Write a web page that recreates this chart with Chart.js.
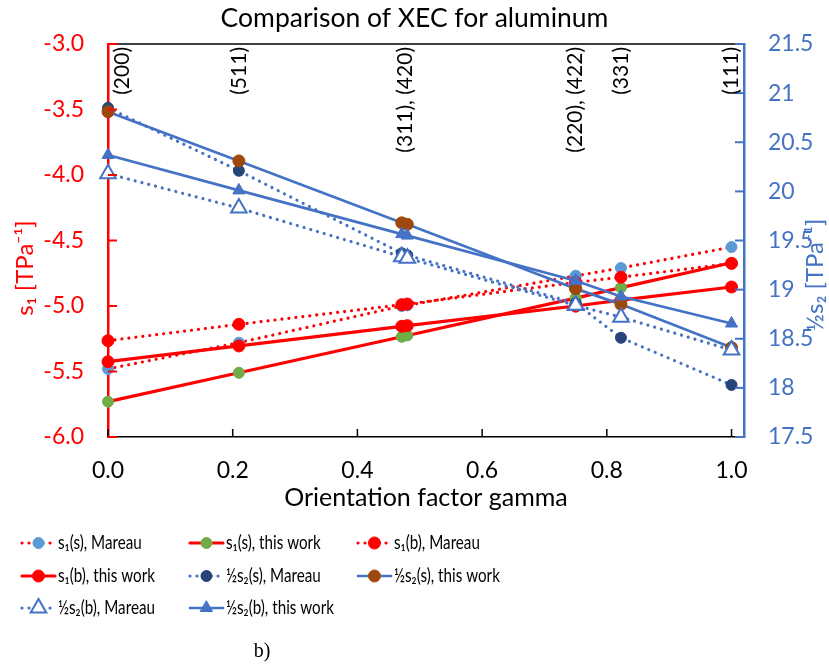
<!DOCTYPE html>
<html>
<head>
<meta charset="utf-8">
<script src="https://cdn.jsdelivr.net/npm/chart.js@4.4.0/dist/chart.umd.min.js"></script>
<style>
  html, body { margin: 0; padding: 0; background: #fff; }
  #wrap { width: 829px; height: 667px; }
</style>
</head>
<body>
<div id="wrap"><canvas id="xecChart" width="829" height="667"></canvas></div>
<script>
// orientation factor gamma of each reflection
const gamma = [0, 0.2099, 0.4711, 0.48, 0.75, 0.75, 0.8227, 1.0];

// s1 [TPa^-1], left axis
const s1sMareau   = [-5.48, -5.28, -5.00, -4.995, -4.77, -4.77, -4.71, -4.55];
const s1sThisWork = [-5.73, -5.51, -5.235, -5.225, -4.94, -4.94, -4.86, -4.67];
const s1bMareau   = [-5.265, -5.14, -4.99, -4.985, -4.82, -4.82, -4.78, -4.675];
const s1bThisWork = [-5.425, -5.305, -5.155, -5.15, -5.0, -5.0, -4.955, -4.855];

// 1/2 s2 [TPa^-1], right axis
const s2sMareau   = [20.85, 20.21, 19.37, 19.35, 18.86, 18.86, 18.51, 18.03];
const s2sThisWork = [20.81, 20.31, 19.68, 19.665, 19.01, 19.01, 18.85, 18.41];
const s2bMareau   = [20.18, 19.83, 19.335, 19.32, 18.84, 18.84, 18.72, 18.385];
const s2bThisWork = [20.37, 20.01, 19.565, 19.55, 19.09, 19.09, 18.93, 18.655];

const hklLabels = ['(200)', '(511)', '(311), (420)', '(220), (422)', '(331)', '(111)'];
const hklGamma  = [0, 0.2099, 0.476, 0.75, 0.8227, 1.0];

const red = '#FF0000', blue = '#4472C4', lightBlue = '#5B9BD5',
      green = '#70AD47', navy = '#264478', brown = '#9E480E';
const FONT = 'Lato, "Open Sans", sans-serif';
const dotted = [0.01, 7];

const pts = arr => gamma.map((g, i) => ({ x: g, y: arr[i] }));

function series(label, arr, axis, line, dash, marker) {
    return Object.assign({
        label: label,
        data: pts(arr),
        yAxisID: axis,
        showLine: true,
        borderColor: line,
        borderWidth: (axis === 'y' || dash.length) ? 3.2 : 2.7,
        borderDash: dash,
        borderCapStyle: 'round',
        pointStyle: 'circle',
        pointRadius: 5.5,
        pointBorderWidth: 1,
        clip: false
    }, marker);
}

const datasets = [
    series('s\u2081(s), Mareau', s1sMareau, 'y', red, dotted,
        { pointBackgroundColor: lightBlue, pointBorderColor: lightBlue }),
    series('s\u2081(s), this work', s1sThisWork, 'y', red, [],
        { pointBackgroundColor: green, pointBorderColor: green }),
    series('s\u2081(b), Mareau', s1bMareau, 'y', red, dotted,
        { pointBackgroundColor: red, pointBorderColor: red, pointRadius: 6 }),
    series('s\u2081(b), this work', s1bThisWork, 'y', red, [],
        { pointBackgroundColor: red, pointBorderColor: red, pointRadius: 6 }),
    series('\u00BDs\u2082(s), Mareau', s2sMareau, 'y2', blue, dotted,
        { pointBackgroundColor: navy, pointBorderColor: navy }),
    series('\u00BDs\u2082(s), this work', s2sThisWork, 'y2', blue, [],
        { pointBackgroundColor: brown, pointBorderColor: brown, pointRadius: 6 }),
    series('\u00BDs\u2082(b), Mareau', s2bMareau, 'y2', blue, dotted,
        { pointStyle: 'triangle', pointRadius: 9, pointBackgroundColor: '#fff',
          pointBorderColor: blue, pointBorderWidth: 2 }),
    series('\u00BDs\u2082(b), this work', s2bThisWork, 'y2', blue, [],
        { pointStyle: 'triangle', pointRadius: 7, pointBackgroundColor: blue,
          pointBorderColor: blue })
];
// excel draws later series on top
datasets.forEach((d, i) => { d.order = datasets.length - i; });

// inward ticks, top border, axis titles, hkl labels, legend, caption
const decorations = {
    id: 'decorations',
    afterDatasetsDraw(chart) {
        const { ctx, chartArea: a, scales } = chart;
        ctx.save();
        ctx.lineWidth = 1.5;
        ctx.strokeStyle = '#000';
        ctx.beginPath();
        ctx.moveTo(a.left, a.top);
        ctx.lineTo(a.right, a.top);
        ctx.stroke();
        scales.x.ticks.forEach(t => {
            const px = scales.x.getPixelForValue(t.value);
            ctx.beginPath(); ctx.moveTo(px, a.bottom); ctx.lineTo(px, a.bottom - 8); ctx.stroke();
        });
        ctx.strokeStyle = red;
        ctx.lineWidth = 2;
        scales.y.ticks.forEach(t => {
            const py = scales.y.getPixelForValue(t.value);
            ctx.beginPath(); ctx.moveTo(a.left, py); ctx.lineTo(a.left + 9, py); ctx.stroke();
        });
        ctx.strokeStyle = blue;
        scales.y2.ticks.forEach(t => {
            const py = scales.y2.getPixelForValue(t.value);
            ctx.beginPath(); ctx.moveTo(a.right, py); ctx.lineTo(a.right - 9, py); ctx.stroke();
        });

        // hkl labels, rotated
        ctx.fillStyle = '#000';
        ctx.font = '21px ' + FONT;
        ctx.textAlign = 'right';
        ctx.textBaseline = 'middle';
        hklLabels.forEach((lab, i) => {
            const px = Math.max(scales.x.getPixelForValue(hklGamma[i]), a.left + 14);
            ctx.save();
            ctx.translate(px, a.top + 3);
            ctx.rotate(-Math.PI / 2);
            ctx.fillText(lab, 0, 0);
            ctx.restore();
        });
        ctx.restore();
    },
    afterDraw(chart) {
        const { ctx, chartArea: a } = chart;
        ctx.save();
        // axis titles
        ctx.textBaseline = 'middle';
        ctx.textAlign = 'center';
        ctx.fillStyle = '#000';
        ctx.font = '25px ' + FONT;
        ctx.fillText('Orientation factor gamma', (a.left + a.right) / 2, 498);

        ctx.font = '24px ' + FONT;
        ctx.fillStyle = red;
        ctx.save();
        ctx.translate(25, 268);
        ctx.rotate(-Math.PI / 2);
        ctx.fillText('s\u2081 [TPa\u207B\u00B9]', 0, 0);
        ctx.restore();

        ctx.fillStyle = blue;
        ctx.save();
        ctx.translate(815, 275);
        ctx.rotate(-Math.PI / 2);
        ctx.fillText('\u00BDs\u2082 [TPa\u207B\u00B9]', 0, 0);
        ctx.restore();

        // legend, 3 columns
        const colX = [22, 190, 358], rowY = [543, 576, 608];
        ctx.font = '19px ' + FONT;
        ctx.textAlign = 'left';
        chart.data.datasets.forEach((d, i) => {
            const x0 = colX[i % 3], y0 = rowY[Math.floor(i / 3)];
            ctx.save();
            ctx.strokeStyle = d.borderColor;
            ctx.lineWidth = d.borderWidth;
            ctx.lineCap = 'round';
            ctx.setLineDash(d.borderDash);
            ctx.beginPath(); ctx.moveTo(x0, y0); ctx.lineTo(x0 + 33, y0); ctx.stroke();
            ctx.setLineDash([]);
            ctx.fillStyle = d.pointBackgroundColor;
            ctx.strokeStyle = d.pointBorderColor;
            ctx.lineWidth = d.pointBorderWidth;
            Chart.helpers.drawPoint(ctx, {
                pointStyle: d.pointStyle, radius: d.pointRadius, rotation: 0,
                borderWidth: d.pointBorderWidth
            }, x0 + 16.5, y0);
            ctx.restore();
            // excel legend text is narrow
            ctx.save();
            ctx.translate(x0 + 36, y0);
            ctx.scale(0.8, 1);
            ctx.fillStyle = '#000';
            ctx.fillText(d.label, 0, 0);
            ctx.restore();
        });

        ctx.font = '20px "Liberation Serif", serif';
        ctx.textAlign = 'center';
        ctx.fillStyle = '#000';
        ctx.fillText('b)', 262, 652);
        ctx.restore();
    }
};

const xecChart = new Chart(document.getElementById('xecChart').getContext('2d'), {
    type: 'scatter',
    data: { datasets: datasets },
    options: {
        responsive: false,
        devicePixelRatio: 1,
        animation: false,
        layout: { padding: 0 },
        plugins: {
            legend: { display: false },
            tooltip: { enabled: false },
            title: {
                display: true,
                text: 'Comparison of XEC for aluminum',
                color: '#000',
                font: { family: FONT, size: 26.5, weight: 'normal', lineHeight: 1.2 },
                padding: { top: 3, bottom: 9.2 }
            }
        },
        scales: {
            x: {
                type: 'linear',
                position: 'bottom',
                min: 0,
                max: 1.02,
                ticks: {
                    stepSize: 0.2,
                    includeBounds: false,
                    color: '#000',
                    font: { family: FONT, size: 23 },
                    padding: 20,
                    callback: v => v.toFixed(1)
                },
                grid: { drawOnChartArea: false, drawTicks: false },
                border: { color: '#000', width: 1.5 },
                afterFit: s => { s.height = 230; }
            },
            y: {
                position: 'left',
                min: -6,
                max: -3,
                ticks: {
                    stepSize: 0.5,
                    color: red,
                    font: { family: FONT, size: 23 },
                    padding: 24,
                    callback: v => v.toFixed(1)
                },
                grid: { drawOnChartArea: false, drawTicks: false },
                border: { color: red, width: 2.5 },
                afterFit: s => { s.width = 108; }
            },
            y2: {
                position: 'right',
                min: 17.5,
                max: 21.5,
                ticks: {
                    stepSize: 0.5,
                    color: blue,
                    font: { family: FONT, size: 23 },
                    padding: 24,
                    callback: v => String(v)
                },
                grid: { drawOnChartArea: false, drawTicks: false },
                border: { color: blue, width: 2.5 },
                afterFit: s => { s.width = 85; }
            }
        }
    },
    plugins: [decorations]
});
</script>
</body>
</html>
